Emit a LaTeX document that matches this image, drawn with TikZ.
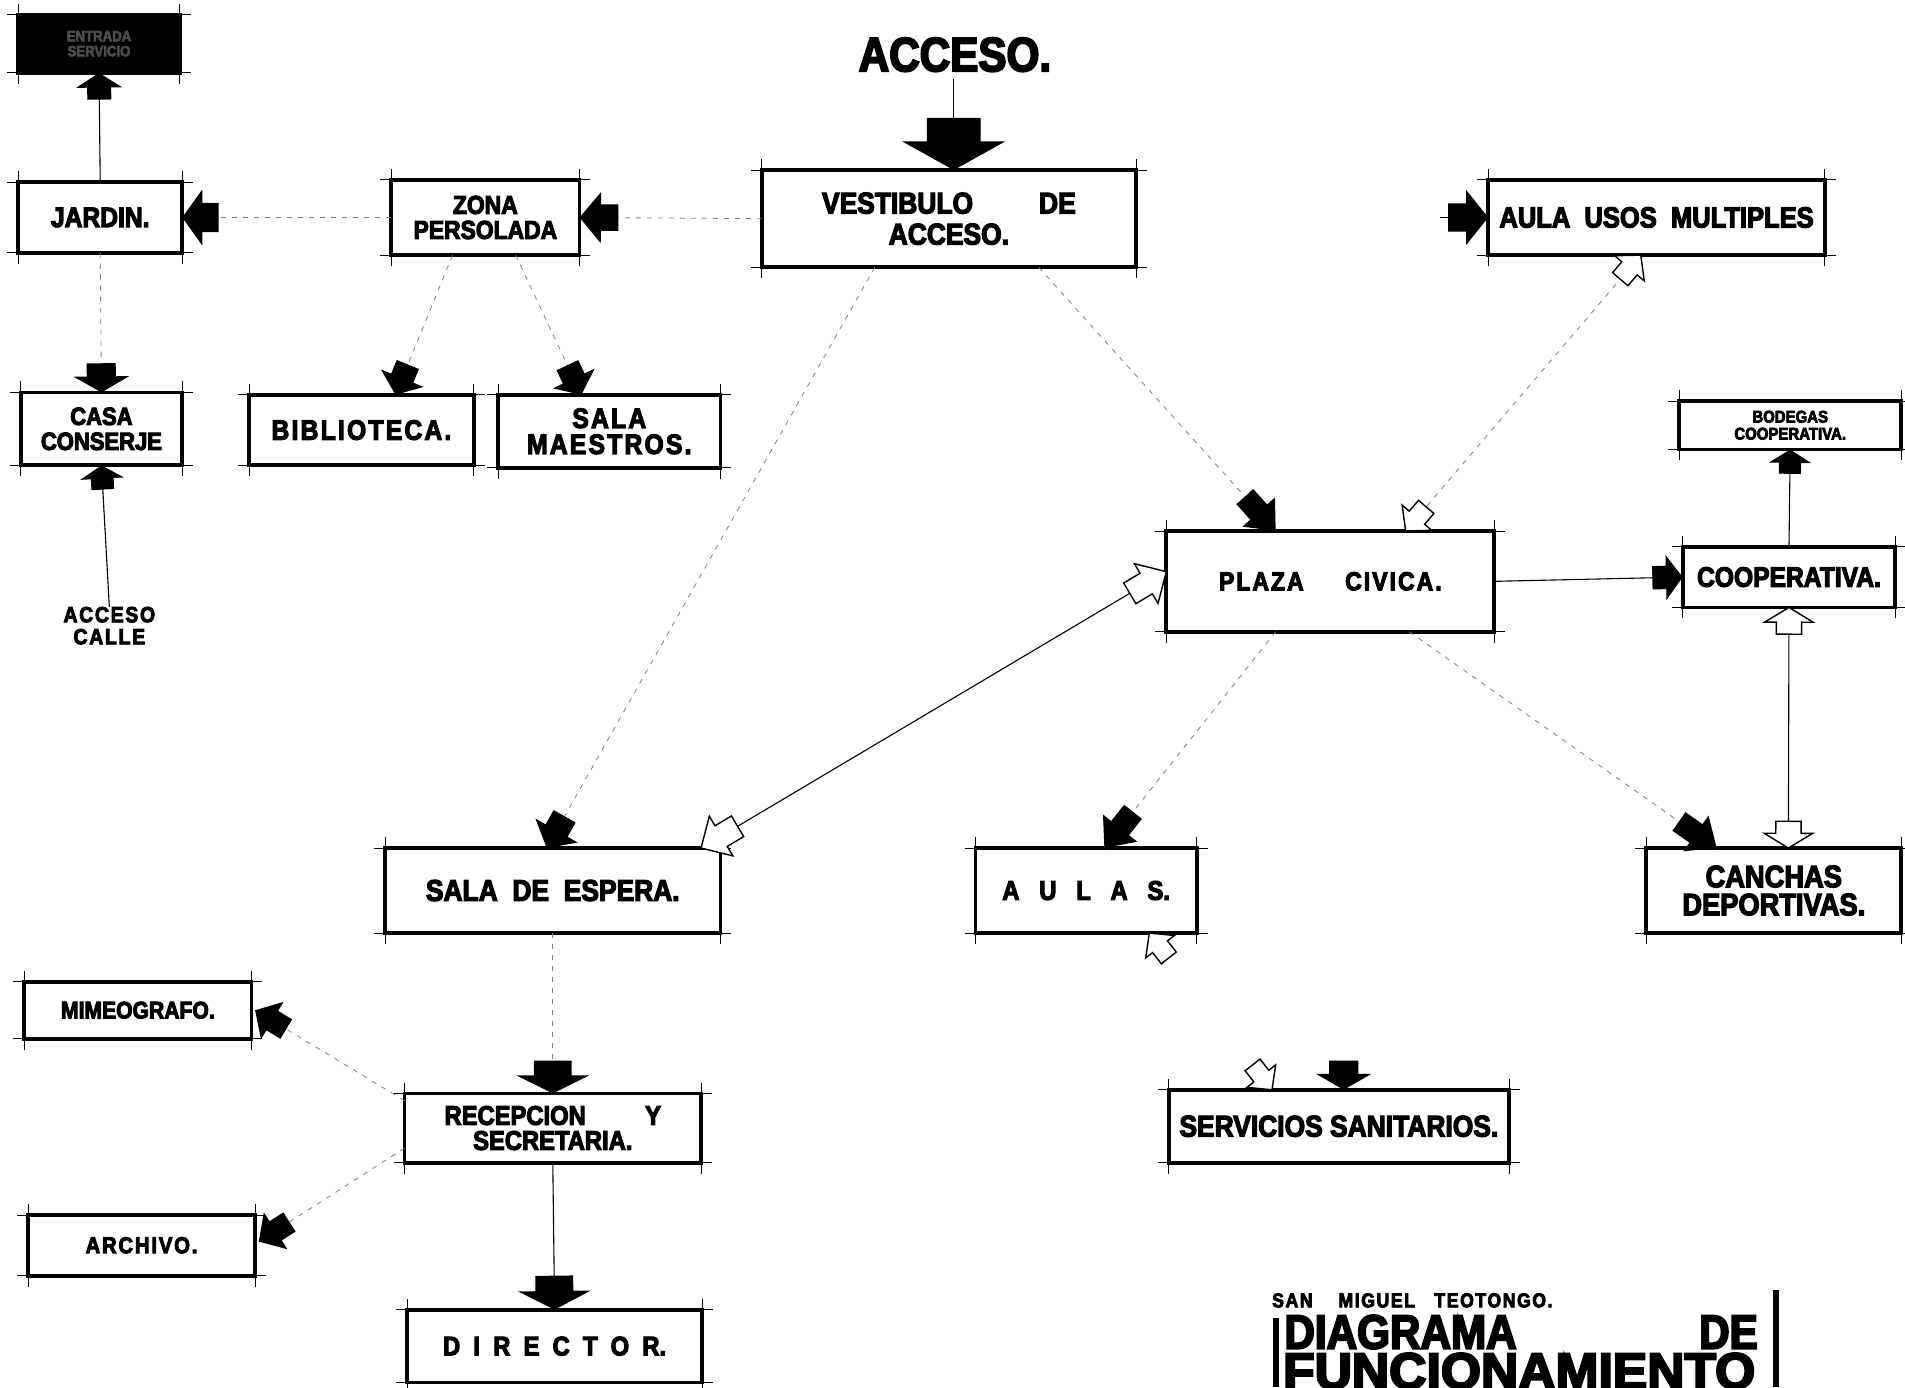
\documentclass[tikz,border=0pt]{standalone}
\usepackage{fontspec}
\setmainfont{Liberation Sans}
\newfontface\hv{Liberation Sans Bold}[FakeStretch=0.88,FakeBold=4]
\newfontface\hvw{Liberation Sans Bold}[FakeStretch=0.88,FakeBold=4,LetterSpace=8]
\usetikzlibrary{calc}
\tikzset{
  box/.style={draw=black, line width=3.8pt, fill=white, inner sep=0pt, outer sep=0pt, align=center},
  sz/.style 2 args={minimum width=#1*1.215pt, minimum height=#2*1.215pt},
  fsz/.style 2 args={font=\hv\fontsize{#1}{#2}\selectfont},
  fszw/.style 2 args={font=\hvw\fontsize{#1}{#2}\selectfont},
  tick/.style={draw=black, line width=0.8pt},
  dsh/.style={draw=black!50, line width=0.8pt, dash pattern=on 5pt off 6pt},
  sol/.style={draw=black, line width=1.1pt},
  ahL/.store in=\ahL, ahW/.store in=\ahW, ahL=28, ahW=44,
  fa/.pic={\fill[black] (0,0) -- (-0.55*\ahL,0.5*\ahW) -- (-0.55*\ahL,0.26*\ahW) -- (-\ahL,0.26*\ahW)
      -- (-\ahL,-0.26*\ahW) -- (-0.55*\ahL,-0.26*\ahW) -- (-0.55*\ahL,-0.5*\ahW) -- cycle;},
  oa/.pic={\draw[black, line width=1.4pt, fill=white] (0,0) -- (-0.55*\ahL,0.5*\ahW) -- (-0.55*\ahL,0.26*\ahW) -- (-\ahL,0.26*\ahW)
      -- (-\ahL,-0.26*\ahW) -- (-0.55*\ahL,-0.26*\ahW) -- (-0.55*\ahL,-0.5*\ahW) -- cycle;},
}
\newcommand\tk[1]{%
  \draw[tick] ($(#1.north west)+(-9,0)$) -- ($(#1.north east)+(9,0)$);
  \draw[tick] ($(#1.south west)+(-9,0)$) -- ($(#1.south east)+(9,0)$);
  \draw[tick] ($(#1.north west)+(0,-9)$) -- ($(#1.south west)+(0,9)$);
  \draw[tick] ($(#1.north east)+(0,-9)$) -- ($(#1.south east)+(0,9)$);}
\newcommand\arr[5][]{%
  \draw[#1] (#2) -- (#3);
  \path let \p1=($(#3)-(#2)$), \n1={atan2(\y1,\x1)} in (#3) pic[rotate=\n1,#5]{#4};}
\newcommand\darr[5][]{%
  \draw[#1] (#2) -- (#3);
  \path let \p1=($(#3)-(#2)$), \n1={atan2(\y1,\x1)} in (#3) pic[rotate=\n1,#5]{#4};
  \path let \p1=($(#2)-(#3)$), \n1={atan2(\y1,\x1)} in (#2) pic[rotate=\n1,#5]{#4};}
\begin{document}
\begin{tikzpicture}[x=1.215pt,y=-1.215pt]
\fill[white] (0,0) rectangle (1568,1142);
\useasboundingbox (0,0) rectangle (1568,1142);

% boxes
\node[box, sz={133}{48}, fill=black, text=black!70, fsz={15}{15}] (topb) at (81.5,36) {ENTRADA\\SERVICIO};
\node[box, sz={135}{58}, fsz={28}{27}] (jardin) at (82.5,179) {JARDIN.};
\node[box, sz={155}{62}, fsz={26}{25}] (zona) at (399.5,179) {ZONA\\PERSOLADA};
\node[box, sz={308}{80}, fsz={30}{31}] (vest) at (781,180) {VESTIBULO\hspace{2.2em}DE\\ACCESO.};
\node[box, sz={277}{62}, fsz={29}{28}] (aum) at (1363.5,179) {AULA\ \ USOS\ \ MULTIPLES};
\node[box, sz={133}{60}, fsz={25}{25}] (casa) at (83.5,353) {CASA\\CONSERJE};
\node[box, sz={185}{58}, fszw={28}{28}] (biblio) at (297.5,354) {BIBLIOTECA.};
\node[box, sz={183}{60}, fszw={28}{26}] (maes) at (501.5,355) {SALA\\MAESTROS.};
\node[box, sz={183}{40}, fsz={17}{17}] (bod) at (1473.5,350) {BODEGAS\\COOPERATIVA.};
\node[box, sz={270}{83}, fszw={26}{28}] (plaza) at (1095,478.5) {PLAZA\hspace{1.6em}CIVICA.};
\node[box, sz={175}{50}, fsz={28}{26}] (coop) at (1472.5,475) {COOPERATIVA.};
\node[fszw={22}{22}, align=center, inner sep=0pt, outer sep=0pt] (calle) at (90,515) {ACCESO\\CALLE};
\node[box, sz={276}{70}, fsz={30}{28}] (espera) at (455,733) {SALA\ \ DE\ \ ESPERA.};
\node[box, sz={182}{70}, fsz={27}{28}] (aulas) at (894,733) {A\ \ \ U\ \ \ L\ \ \ A\ \ \ S.};
\node[box, sz={210}{70}, fsz={31}{28}] (canchas) at (1460,733) {CANCHAS\\DEPORTIVAS.};
\node[box, sz={187}{47}, fsz={24}{20}] (mimeo) at (113.5,831.5) {MIMEOGRAFO.};
\node[box, sz={244}{57}, fsz={27}{25}] (recep) at (455,928.5) {RECEPCION\hspace{2.2em}Y\\SECRETARIA.};
\node[box, sz={280}{60}, fsz={30}{28}] (serv) at (1102,927) {SERVICIOS SANITARIOS.};
\node[box, sz={187}{50}, fszw={23}{20}] (arch) at (116.5,1025) {ARCHIVO.};
\node[box, sz={243}{60}, fsz={27}{26}] (dir) at (456.5,1108) {D\ \ I\ \ R\ \ E\ \ C\ \ T\ \ O\ \ R.};
\node[fsz={48}{48}, inner sep=0pt, outer sep=0pt] (acc) at (786,45) {ACCESO.};

\foreach \b in {topb,jardin,zona,vest,aum,casa,biblio,maes,bod,plaza,coop,espera,aulas,canchas,mimeo,recep,serv,arch,dir} {\tk{\b}}

% title
\node[fszw={20}{20}, anchor=base west, inner sep=0pt] (smt) at (1047,1076) {SAN\ \ \ \ MIGUEL\ \ \ TEOTONGO.};
\node[fsz={48}{48}, anchor=base west, inner sep=0pt] (dia) at (1057,1110) {DIAGRAMA};
\node[fsz={48}{48}, anchor=base east, inner sep=0pt] (de) at (1447,1110) {DE};
\node[fsz={51}{51}, anchor=base west, inner sep=0pt] (func) at (1056,1143) {\scalebox{1.15}[1]{FUNCIONAMIENTO}};
\draw[line width=6pt] (1050,1085) -- (1050,1142);
\draw[line width=6pt] (1462,1062) -- (1462,1142);

% coordinates
\coordinate (accb) at ($(vest.north)+(4,-75)$);
\coordinate (vestt) at ($(vest.north)+(4,0)$);
\coordinate (zbl) at ($(zona.south)+(-27,0)$);
\coordinate (bibt) at ($(biblio.north)+(28,0)$);
\coordinate (zbr) at ($(zona.south)+(25,0)$);
\coordinate (maet) at ($(maes.north)+(-23,0)$);
\coordinate (vbl) at ($(vest.south)+(-61,0)$);
\coordinate (espt) at ($(espera.north)+(-5,0)$);
\coordinate (vbr) at ($(vest.south)+(74,0)$);
\coordinate (plt1) at ($(plaza.north)+(-45,0)$);
\coordinate (plt2) at ($(plaza.north)+(62,0)$);
\coordinate (aumb) at ($(aum.south)+(-13,0)$);
\coordinate (aumin) at (1185,179);
\coordinate (espr) at ($(espera.north)+(122,0)$);
\coordinate (plw) at ($(plaza.west)+(0,-8)$);
\coordinate (canl) at ($(canchas.north)+(-47,0)$);
\coordinate (canc) at ($(canchas.north)+(12,0)$);
\coordinate (plb1) at ($(plaza.south)+(65,0)$);
\coordinate (plb2) at ($(plaza.south)+(-45,0)$);
\coordinate (ault) at ($(aulas.north)+(15,0)$);
\coordinate (aulb) at ($(aulas.south)+(52,0)$);
\coordinate (servt1) at ($(serv.north)+(-55,0)$);
\coordinate (servt2) at ($(serv.north)+(4,0)$);
\coordinate (rnw) at ($(recep.north west)+(0,6)$);
\coordinate (rsw) at ($(recep.south west)+(0,-12)$);
\coordinate (mime) at ($(mimeo.east)+(3,0)$);
\coordinate (arce) at ($(arch.east)+(3,-3)$);

% connectors
\arr[sol]{jardin.north}{topb.south}{fa}{ahL=22,ahW=38}
\arr[dsh]{zona.west}{jardin.east}{fa}{ahL=30,ahW=46}
\arr[dsh]{vest.west}{zona.east}{fa}{ahL=32,ahW=42}
\arr[sol]{accb}{vestt}{fa}{ahL=43,ahW=85}
\arr[dsh]{jardin.south}{casa.north}{fa}{ahL=24,ahW=46}
\arr[sol]{calle.north}{casa.south}{fa}{ahL=20,ahW=36}
\arr[dsh]{zbl}{bibt}{fa}{ahL=27,ahW=38}
\arr[dsh]{zbr}{maet}{fa}{ahL=27,ahW=38}
\arr[dsh]{vbl}{espt}{fa}{ahL=30,ahW=40}
\arr[dsh]{vbr}{plt1}{fa}{ahL=38,ahW=36}
\darr[dsh]{plt2}{aumb}{oa}{ahL=26,ahW=32}
\arr[sol]{aumin}{aum.west}{fa}{ahL=33,ahW=45}
\darr[sol]{espr}{plw}{oa}{ahL=35,ahW=38}
\arr[sol]{plaza.east}{coop.west}{fa}{ahL=25,ahW=37}
\arr[sol]{coop.north}{bod.south}{fa}{ahL=20,ahW=35}
\darr[sol]{coop.south}{canc}{oa}{ahL=22,ahW=40}
\arr[dsh]{plb1}{canl}{fa}{ahL=38,ahW=36}
\arr[dsh]{plb2}{ault}{fa}{ahL=38,ahW=36}
\darr[draw=none]{aulb}{servt1}{oa}{ahL=26,ahW=30}
\path (servt2) pic[rotate=-90, ahL=24, ahW=46]{fa};
\arr[dsh]{espera.south}{recep.north}{fa}{ahL=27,ahW=60}
\arr[dsh]{rnw}{mime}{fa}{ahL=30,ahW=36}
\arr[dsh]{rsw}{arce}{fa}{ahL=30,ahW=36}
\arr[sol]{recep.south}{dir.north}{fa}{ahL=28,ahW=60}
\end{tikzpicture}
\end{document}
